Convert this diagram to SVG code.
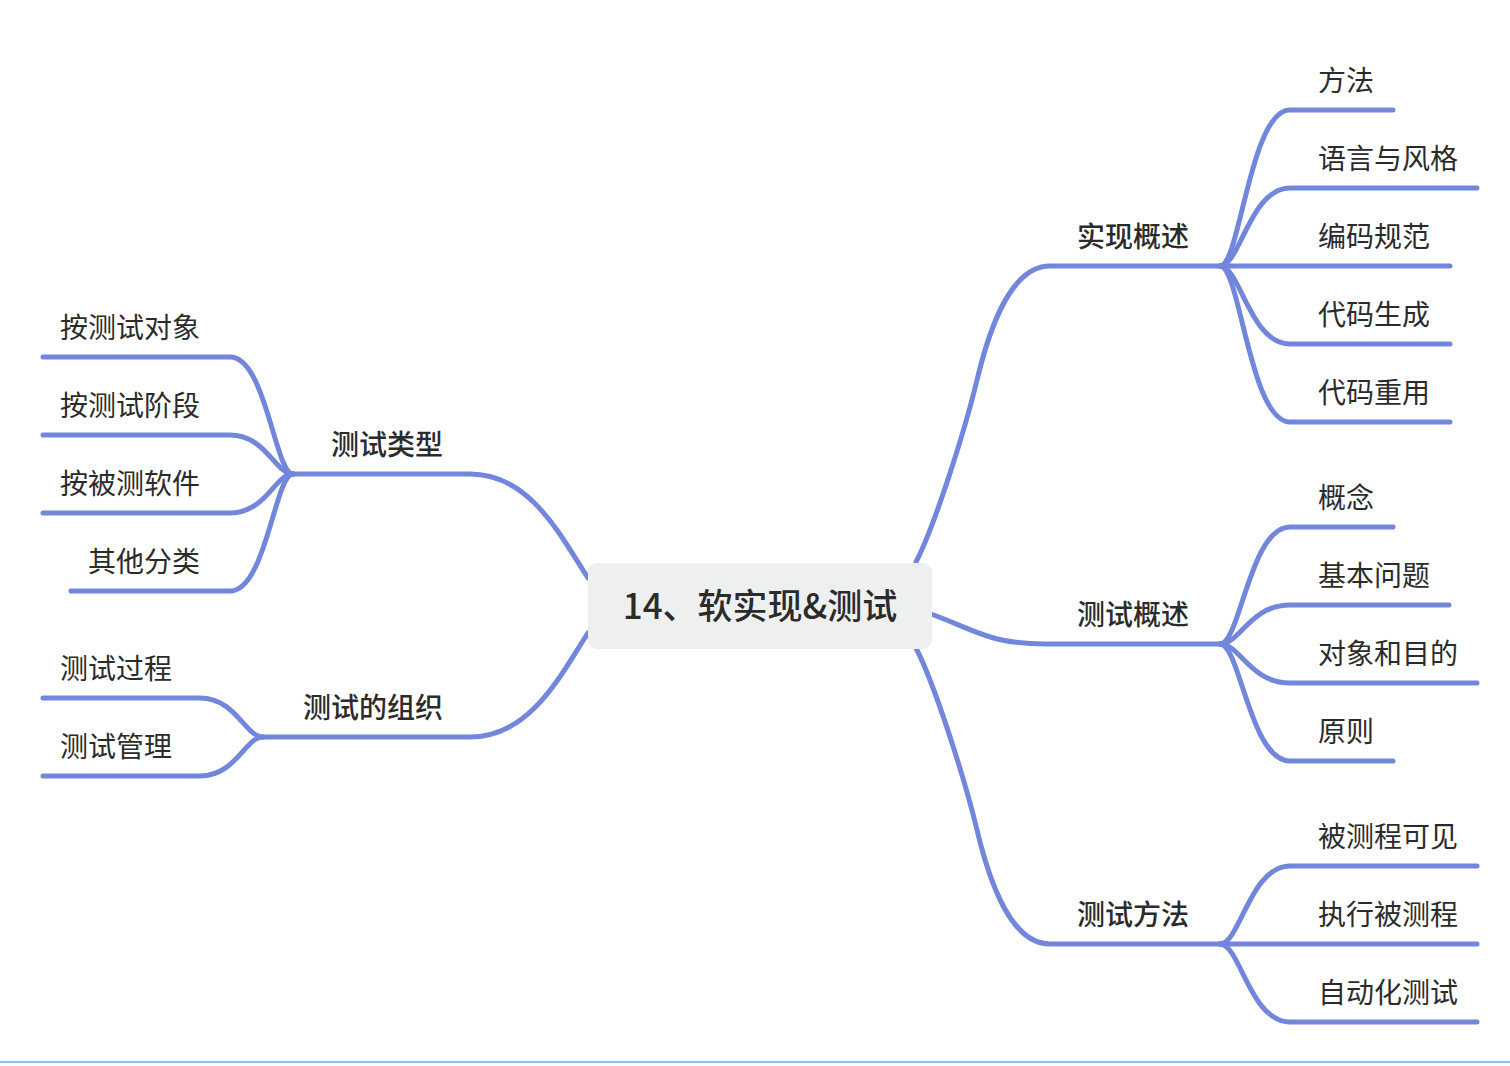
<svg xmlns="http://www.w3.org/2000/svg" width="1510" height="1066" viewBox="0 0 1510 1066">
<style>
.c{fill:none;stroke:#7286dc;stroke-width:5;stroke-linecap:round;stroke-linejoin:round}
text{font-family:"Noto Sans CJK SC","Noto Sans",sans-serif;fill:#2b2b2b}
.leaf{font-size:28px}
.br{font-size:28px;font-weight:500}
.root{font-size:35px;font-weight:500}
</style>
<rect width="1510" height="1066" fill="#ffffff"/>
<line x1="0" y1="1062" x2="1510" y2="1062" stroke="#86c0f5" stroke-width="2"/>
<g id="connectors">
<path class="c" d="M916,562 C935,525 965,430 977,380 C989,330 1010,266 1050,266 L1220,266"/>
<path class="c" d="M931,614 C975,630 990,644 1045,644 L1220,644"/>
<path class="c" d="M916,648 C935,685 965,780 977,830 C989,880 1010,944 1050,944 L1220,944"/>
<path class="c" d="M588,578 C560,535 530,474 470,474 L293,474"/>
<path class="c" d="M588,633 C560,676 530,737 470,737 L263,737"/>
<path class="c" d="M1220,266 C1240,266 1250,110 1290,110 L1393,110"/>
<path class="c" d="M1220,266 C1240,266 1250,188 1290,188 L1477,188"/>
<path class="c" d="M1220,266 L1450,266"/>
<path class="c" d="M1220,266 C1240,266 1250,344 1290,344 L1450,344"/>
<path class="c" d="M1220,266 C1240,266 1250,422 1290,422 L1450,422"/>
<path class="c" d="M1220,644 C1240,644 1250,527 1290,527 L1393,527"/>
<path class="c" d="M1220,644 C1240,644 1250,605 1290,605 L1449,605"/>
<path class="c" d="M1220,644 C1240,644 1250,683 1290,683 L1477,683"/>
<path class="c" d="M1220,644 C1240,644 1250,761 1290,761 L1393,761"/>
<path class="c" d="M1220,944 C1240,944 1250,866 1290,866 L1477,866"/>
<path class="c" d="M1220,944 L1477,944"/>
<path class="c" d="M1220,944 C1240,944 1250,1022 1290,1022 L1477,1022"/>
<path class="c" d="M293,474 C275,474 266,357 230,357 L43,357"/>
<path class="c" d="M293,474 C275,474 266,435 230,435 L43,435"/>
<path class="c" d="M293,474 C275,474 266,513 230,513 L43,513"/>
<path class="c" d="M293,474 C275,474 266,591 230,591 L71,591"/>
<path class="c" d="M263,737 C245,737 236,698 200,698 L43,698"/>
<path class="c" d="M263,737 C245,737 236,776 200,776 L43,776"/>
</g>
<g id="root">
<rect x="588" y="563" width="344" height="86" rx="9" fill="#eef0ef"/>
<text class="root" x="760" y="619" text-anchor="middle">14、软实现&amp;测试</text>
</g>
<g id="b1"><text class="br" x="1077" y="247">实现概述</text></g>
<g id="b2"><text class="br" x="1077" y="625">测试概述</text></g>
<g id="b3"><text class="br" x="1077" y="925">测试方法</text></g>
<g id="b4"><text class="br" x="443" y="455" text-anchor="end">测试类型</text></g>
<g id="b5"><text class="br" x="443" y="718" text-anchor="end">测试的组织</text></g>
<g id="l1"><text class="leaf" x="1318" y="91">方法</text></g>
<g id="l2"><text class="leaf" x="1318" y="169">语言与风格</text></g>
<g id="l3"><text class="leaf" x="1318" y="247">编码规范</text></g>
<g id="l4"><text class="leaf" x="1318" y="325">代码生成</text></g>
<g id="l5"><text class="leaf" x="1318" y="403">代码重用</text></g>
<g id="l6"><text class="leaf" x="1318" y="508">概念</text></g>
<g id="l7"><text class="leaf" x="1318" y="586">基本问题</text></g>
<g id="l8"><text class="leaf" x="1318" y="664">对象和目的</text></g>
<g id="l9"><text class="leaf" x="1318" y="742">原则</text></g>
<g id="l10"><text class="leaf" x="1318" y="847">被测程可见</text></g>
<g id="l11"><text class="leaf" x="1318" y="925">执行被测程</text></g>
<g id="l12"><text class="leaf" x="1318" y="1003">自动化测试</text></g>
<g id="l13"><text class="leaf" x="200" y="338" text-anchor="end">按测试对象</text></g>
<g id="l14"><text class="leaf" x="200" y="416" text-anchor="end">按测试阶段</text></g>
<g id="l15"><text class="leaf" x="200" y="494" text-anchor="end">按被测软件</text></g>
<g id="l16"><text class="leaf" x="200" y="572" text-anchor="end">其他分类</text></g>
<g id="l17"><text class="leaf" x="172" y="679" text-anchor="end">测试过程</text></g>
<g id="l18"><text class="leaf" x="172" y="757" text-anchor="end">测试管理</text></g>
</svg>
